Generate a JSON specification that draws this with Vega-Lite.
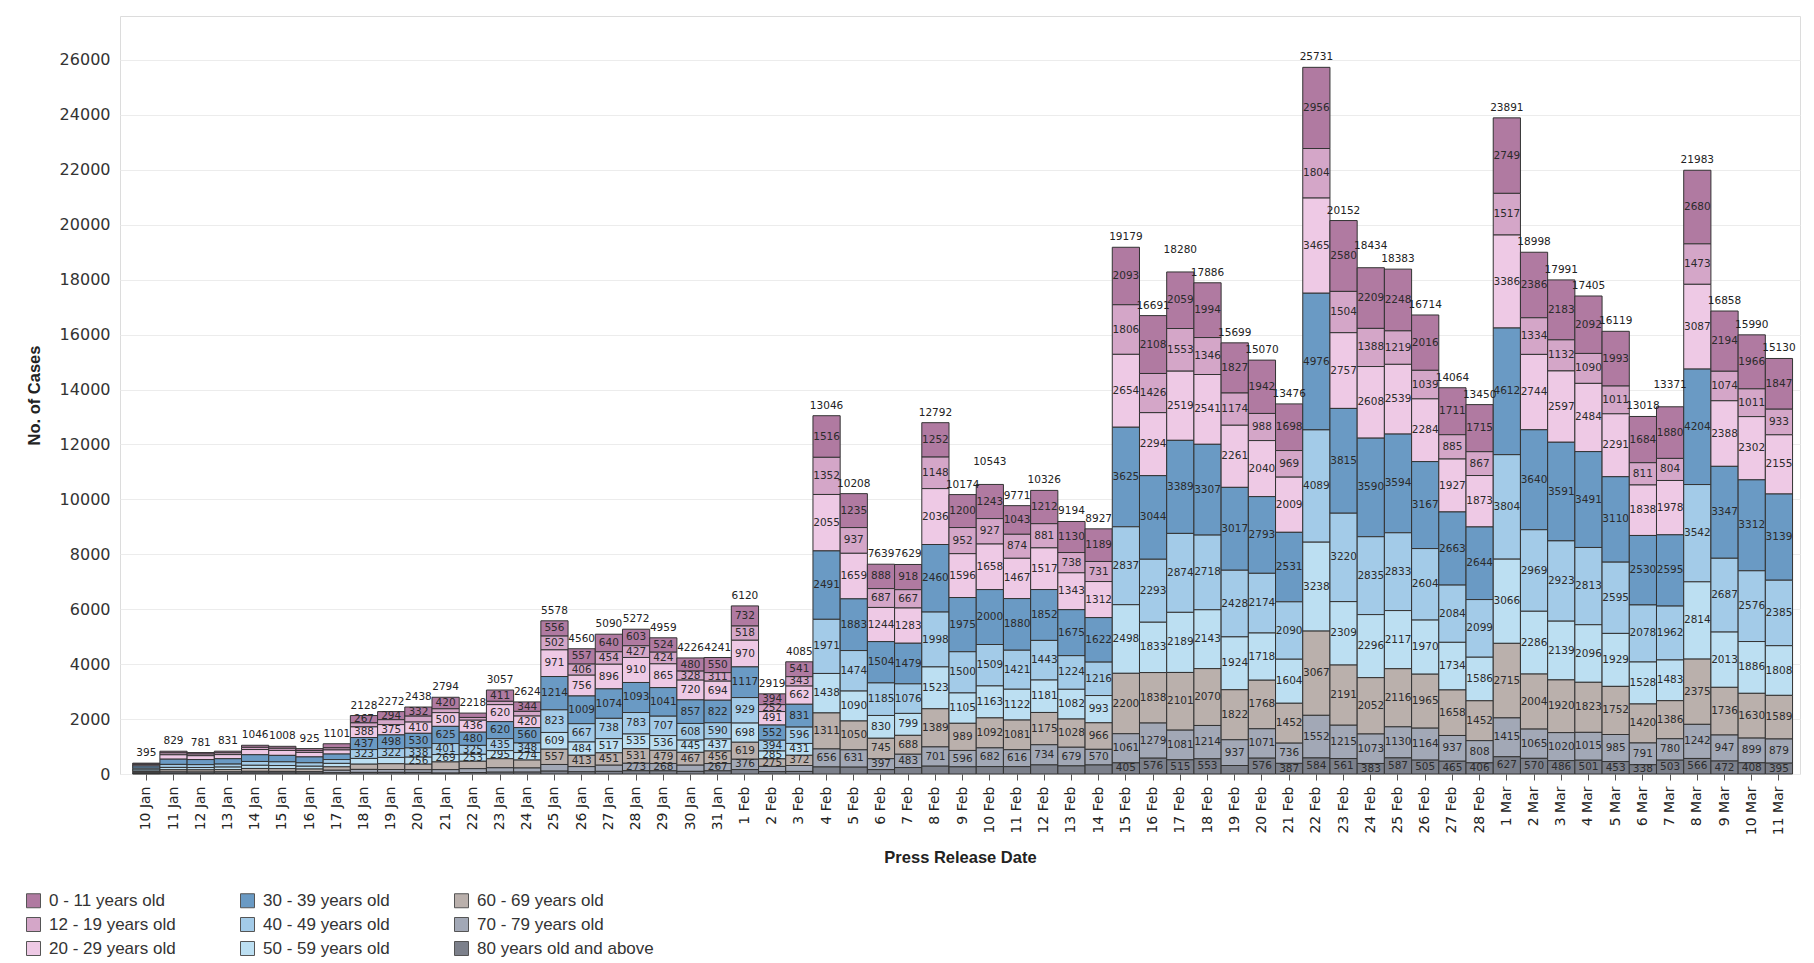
{
  "$schema": "https://vega.github.io/schema/vega-lite/v6.json",
  "width": 1680,
  "height": 758,
  "autosize": {"type": "none"},
  "padding": {"left": 120, "top": 16, "right": 14, "bottom": 189},
  "background": "white",
  "config": {
    "view": {"stroke": "#dcdcdc"},
    "axis": {"gridColor": "#ececec", "domain": false}
  },
  "data": {"values": [
    {"date": "2022-01-10", "0 - 11 years old": 35, "12 - 19 years old": 25, "20 - 29 years old": 45, "30 - 39 years old": 80, "40 - 49 years old": 65, "50 - 59 years old": 50, "60 - 69 years old": 50, "70 - 79 years old": 30, "80 years old and above": 15},
    {"date": "2022-01-11", "0 - 11 years old": 60, "12 - 19 years old": 70, "20 - 29 years old": 160, "30 - 39 years old": 190, "40 - 49 years old": 110, "50 - 59 years old": 85, "60 - 69 years old": 80, "70 - 79 years old": 45, "80 years old and above": 29},
    {"date": "2022-01-12", "0 - 11 years old": 55, "12 - 19 years old": 60, "20 - 29 years old": 140, "30 - 39 years old": 185, "40 - 49 years old": 105, "50 - 59 years old": 85, "60 - 69 years old": 80, "70 - 79 years old": 45, "80 years old and above": 26},
    {"date": "2022-01-13", "0 - 11 years old": 60, "12 - 19 years old": 65, "20 - 29 years old": 150, "30 - 39 years old": 195, "40 - 49 years old": 110, "50 - 59 years old": 90, "60 - 69 years old": 85, "70 - 79 years old": 48, "80 years old and above": 28},
    {"date": "2022-01-14", "0 - 11 years old": 75, "12 - 19 years old": 80, "20 - 29 years old": 190, "30 - 39 years old": 245, "40 - 49 years old": 140, "50 - 59 years old": 115, "60 - 69 years old": 105, "70 - 79 years old": 60, "80 years old and above": 36},
    {"date": "2022-01-15", "0 - 11 years old": 72, "12 - 19 years old": 78, "20 - 29 years old": 180, "30 - 39 years old": 235, "40 - 49 years old": 135, "50 - 59 years old": 112, "60 - 69 years old": 102, "70 - 79 years old": 58, "80 years old and above": 36},
    {"date": "2022-01-16", "0 - 11 years old": 68, "12 - 19 years old": 70, "20 - 29 years old": 165, "30 - 39 years old": 215, "40 - 49 years old": 125, "50 - 59 years old": 102, "60 - 69 years old": 95, "70 - 79 years old": 52, "80 years old and above": 33},
    {"date": "2022-01-17", "0 - 11 years old": 150, "12 - 19 years old": 75, "20 - 29 years old": 150, "30 - 39 years old": 200, "40 - 49 years old": 140, "50 - 59 years old": 125, "60 - 69 years old": 125, "70 - 79 years old": 90, "80 years old and above": 46},
    {"date": "2022-01-18", "0 - 11 years old": 267, "12 - 19 years old": 146, "20 - 29 years old": 388, "30 - 39 years old": 437, "40 - 49 years old": 323, "50 - 59 years old": 210, "60 - 69 years old": 190, "70 - 79 years old": 110, "80 years old and above": 57},
    {"date": "2022-01-19", "0 - 11 years old": 294, "12 - 19 years old": 180, "20 - 29 years old": 375, "30 - 39 years old": 498, "40 - 49 years old": 322, "50 - 59 years old": 230, "60 - 69 years old": 210, "70 - 79 years old": 105, "80 years old and above": 58},
    {"date": "2022-01-20", "0 - 11 years old": 332, "12 - 19 years old": 215, "20 - 29 years old": 410, "30 - 39 years old": 530, "40 - 49 years old": 338, "50 - 59 years old": 256, "60 - 69 years old": 200, "70 - 79 years old": 100, "80 years old and above": 57},
    {"date": "2022-01-21", "0 - 11 years old": 420, "12 - 19 years old": 140, "20 - 29 years old": 500, "30 - 39 years old": 625, "40 - 49 years old": 401, "50 - 59 years old": 269, "60 - 69 years old": 280, "70 - 79 years old": 125, "80 years old and above": 34},
    {"date": "2022-01-22", "0 - 11 years old": 160, "12 - 19 years old": 100, "20 - 29 years old": 436, "30 - 39 years old": 480, "40 - 49 years old": 325, "50 - 59 years old": 253, "60 - 69 years old": 270, "70 - 79 years old": 140, "80 years old and above": 54},
    {"date": "2022-01-23", "0 - 11 years old": 411, "12 - 19 years old": 120, "20 - 29 years old": 620, "30 - 39 years old": 620, "40 - 49 years old": 435, "50 - 59 years old": 295, "60 - 69 years old": 330, "70 - 79 years old": 160, "80 years old and above": 66},
    {"date": "2022-01-24", "0 - 11 years old": 344, "12 - 19 years old": 170, "20 - 29 years old": 420, "30 - 39 years old": 560, "40 - 49 years old": 348, "50 - 59 years old": 274, "60 - 69 years old": 290, "70 - 79 years old": 150, "80 years old and above": 68},
    {"date": "2022-01-25", "0 - 11 years old": 556, "12 - 19 years old": 502, "20 - 29 years old": 971, "30 - 39 years old": 1214, "40 - 49 years old": 823, "50 - 59 years old": 609, "60 - 69 years old": 557, "70 - 79 years old": 242, "80 years old and above": 104},
    {"date": "2022-01-26", "0 - 11 years old": 557, "12 - 19 years old": 406, "20 - 29 years old": 756, "30 - 39 years old": 1009, "40 - 49 years old": 667, "50 - 59 years old": 484, "60 - 69 years old": 413, "70 - 79 years old": 188, "80 years old and above": 80},
    {"date": "2022-01-27", "0 - 11 years old": 640, "12 - 19 years old": 454, "20 - 29 years old": 896, "30 - 39 years old": 1074, "40 - 49 years old": 738, "50 - 59 years old": 517, "60 - 69 years old": 451, "70 - 79 years old": 224, "80 years old and above": 96},
    {"date": "2022-01-28", "0 - 11 years old": 603, "12 - 19 years old": 427, "20 - 29 years old": 910, "30 - 39 years old": 1093, "40 - 49 years old": 783, "50 - 59 years old": 535, "60 - 69 years old": 531, "70 - 79 years old": 273, "80 years old and above": 117},
    {"date": "2022-01-29", "0 - 11 years old": 524, "12 - 19 years old": 424, "20 - 29 years old": 865, "30 - 39 years old": 1041, "40 - 49 years old": 707, "50 - 59 years old": 536, "60 - 69 years old": 479, "70 - 79 years old": 268, "80 years old and above": 115},
    {"date": "2022-01-30", "0 - 11 years old": 480, "12 - 19 years old": 328, "20 - 29 years old": 720, "30 - 39 years old": 857, "40 - 49 years old": 608, "50 - 59 years old": 445, "60 - 69 years old": 467, "70 - 79 years old": 225, "80 years old and above": 96},
    {"date": "2022-01-31", "0 - 11 years old": 550, "12 - 19 years old": 311, "20 - 29 years old": 694, "30 - 39 years old": 822, "40 - 49 years old": 590, "50 - 59 years old": 437, "60 - 69 years old": 456, "70 - 79 years old": 267, "80 years old and above": 114},
    {"date": "2022-02-01", "0 - 11 years old": 732, "12 - 19 years old": 518, "20 - 29 years old": 970, "30 - 39 years old": 1117, "40 - 49 years old": 929, "50 - 59 years old": 698, "60 - 69 years old": 619, "70 - 79 years old": 376, "80 years old and above": 161},
    {"date": "2022-02-02", "0 - 11 years old": 394, "12 - 19 years old": 252, "20 - 29 years old": 491, "30 - 39 years old": 552, "40 - 49 years old": 394, "50 - 59 years old": 285, "60 - 69 years old": 275, "70 - 79 years old": 193, "80 years old and above": 83},
    {"date": "2022-02-03", "0 - 11 years old": 541, "12 - 19 years old": 343, "20 - 29 years old": 662, "30 - 39 years old": 831, "40 - 49 years old": 596, "50 - 59 years old": 431, "60 - 69 years old": 372, "70 - 79 years old": 216, "80 years old and above": 93},
    {"date": "2022-02-04", "0 - 11 years old": 1516, "12 - 19 years old": 1352, "20 - 29 years old": 2055, "30 - 39 years old": 2491, "40 - 49 years old": 1971, "50 - 59 years old": 1438, "60 - 69 years old": 1311, "70 - 79 years old": 656, "80 years old and above": 256},
    {"date": "2022-02-05", "0 - 11 years old": 1235, "12 - 19 years old": 937, "20 - 29 years old": 1659, "30 - 39 years old": 1883, "40 - 49 years old": 1474, "50 - 59 years old": 1090, "60 - 69 years old": 1050, "70 - 79 years old": 631, "80 years old and above": 249},
    {"date": "2022-02-06", "0 - 11 years old": 888, "12 - 19 years old": 687, "20 - 29 years old": 1244, "30 - 39 years old": 1504, "40 - 49 years old": 1185, "50 - 59 years old": 830, "60 - 69 years old": 745, "70 - 79 years old": 397, "80 years old and above": 159},
    {"date": "2022-02-07", "0 - 11 years old": 918, "12 - 19 years old": 667, "20 - 29 years old": 1283, "30 - 39 years old": 1479, "40 - 49 years old": 1076, "50 - 59 years old": 799, "60 - 69 years old": 688, "70 - 79 years old": 483, "80 years old and above": 236},
    {"date": "2022-02-08", "0 - 11 years old": 1252, "12 - 19 years old": 1148, "20 - 29 years old": 2036, "30 - 39 years old": 2460, "40 - 49 years old": 1998, "50 - 59 years old": 1523, "60 - 69 years old": 1389, "70 - 79 years old": 701, "80 years old and above": 285},
    {"date": "2022-02-09", "0 - 11 years old": 1200, "12 - 19 years old": 952, "20 - 29 years old": 1596, "30 - 39 years old": 1975, "40 - 49 years old": 1500, "50 - 59 years old": 1105, "60 - 69 years old": 989, "70 - 79 years old": 596, "80 years old and above": 261},
    {"date": "2022-02-10", "0 - 11 years old": 1243, "12 - 19 years old": 927, "20 - 29 years old": 1658, "30 - 39 years old": 2000, "40 - 49 years old": 1509, "50 - 59 years old": 1163, "60 - 69 years old": 1092, "70 - 79 years old": 682, "80 years old and above": 269},
    {"date": "2022-02-11", "0 - 11 years old": 1043, "12 - 19 years old": 874, "20 - 29 years old": 1467, "30 - 39 years old": 1880, "40 - 49 years old": 1421, "50 - 59 years old": 1122, "60 - 69 years old": 1081, "70 - 79 years old": 616, "80 years old and above": 267},
    {"date": "2022-02-12", "0 - 11 years old": 1212, "12 - 19 years old": 881, "20 - 29 years old": 1517, "30 - 39 years old": 1852, "40 - 49 years old": 1443, "50 - 59 years old": 1181, "60 - 69 years old": 1175, "70 - 79 years old": 734, "80 years old and above": 331},
    {"date": "2022-02-13", "0 - 11 years old": 1130, "12 - 19 years old": 738, "20 - 29 years old": 1343, "30 - 39 years old": 1675, "40 - 49 years old": 1224, "50 - 59 years old": 1082, "60 - 69 years old": 1028, "70 - 79 years old": 679, "80 years old and above": 295},
    {"date": "2022-02-14", "0 - 11 years old": 1189, "12 - 19 years old": 731, "20 - 29 years old": 1312, "30 - 39 years old": 1622, "40 - 49 years old": 1216, "50 - 59 years old": 993, "60 - 69 years old": 966, "70 - 79 years old": 570, "80 years old and above": 328},
    {"date": "2022-02-15", "0 - 11 years old": 2093, "12 - 19 years old": 1806, "20 - 29 years old": 2654, "30 - 39 years old": 3625, "40 - 49 years old": 2837, "50 - 59 years old": 2498, "60 - 69 years old": 2200, "70 - 79 years old": 1061, "80 years old and above": 405},
    {"date": "2022-02-16", "0 - 11 years old": 2108, "12 - 19 years old": 1426, "20 - 29 years old": 2294, "30 - 39 years old": 3044, "40 - 49 years old": 2293, "50 - 59 years old": 1833, "60 - 69 years old": 1838, "70 - 79 years old": 1279, "80 years old and above": 576},
    {"date": "2022-02-17", "0 - 11 years old": 2059, "12 - 19 years old": 1553, "20 - 29 years old": 2519, "30 - 39 years old": 3389, "40 - 49 years old": 2874, "50 - 59 years old": 2189, "60 - 69 years old": 2101, "70 - 79 years old": 1081, "80 years old and above": 515},
    {"date": "2022-02-18", "0 - 11 years old": 1994, "12 - 19 years old": 1346, "20 - 29 years old": 2541, "30 - 39 years old": 3307, "40 - 49 years old": 2718, "50 - 59 years old": 2143, "60 - 69 years old": 2070, "70 - 79 years old": 1214, "80 years old and above": 553},
    {"date": "2022-02-19", "0 - 11 years old": 1827, "12 - 19 years old": 1174, "20 - 29 years old": 2261, "30 - 39 years old": 3017, "40 - 49 years old": 2428, "50 - 59 years old": 1924, "60 - 69 years old": 1822, "70 - 79 years old": 937, "80 years old and above": 309},
    {"date": "2022-02-20", "0 - 11 years old": 1942, "12 - 19 years old": 988, "20 - 29 years old": 2040, "30 - 39 years old": 2793, "40 - 49 years old": 2174, "50 - 59 years old": 1718, "60 - 69 years old": 1768, "70 - 79 years old": 1071, "80 years old and above": 576},
    {"date": "2022-02-21", "0 - 11 years old": 1698, "12 - 19 years old": 969, "20 - 29 years old": 2009, "30 - 39 years old": 2531, "40 - 49 years old": 2090, "50 - 59 years old": 1604, "60 - 69 years old": 1452, "70 - 79 years old": 736, "80 years old and above": 387},
    {"date": "2022-02-22", "0 - 11 years old": 2956, "12 - 19 years old": 1804, "20 - 29 years old": 3465, "30 - 39 years old": 4976, "40 - 49 years old": 4089, "50 - 59 years old": 3238, "60 - 69 years old": 3067, "70 - 79 years old": 1552, "80 years old and above": 584},
    {"date": "2022-02-23", "0 - 11 years old": 2580, "12 - 19 years old": 1504, "20 - 29 years old": 2757, "30 - 39 years old": 3815, "40 - 49 years old": 3220, "50 - 59 years old": 2309, "60 - 69 years old": 2191, "70 - 79 years old": 1215, "80 years old and above": 561},
    {"date": "2022-02-24", "0 - 11 years old": 2209, "12 - 19 years old": 1388, "20 - 29 years old": 2608, "30 - 39 years old": 3590, "40 - 49 years old": 2835, "50 - 59 years old": 2296, "60 - 69 years old": 2052, "70 - 79 years old": 1073, "80 years old and above": 383},
    {"date": "2022-02-25", "0 - 11 years old": 2248, "12 - 19 years old": 1219, "20 - 29 years old": 2539, "30 - 39 years old": 3594, "40 - 49 years old": 2833, "50 - 59 years old": 2117, "60 - 69 years old": 2116, "70 - 79 years old": 1130, "80 years old and above": 587},
    {"date": "2022-02-26", "0 - 11 years old": 2016, "12 - 19 years old": 1039, "20 - 29 years old": 2284, "30 - 39 years old": 3167, "40 - 49 years old": 2604, "50 - 59 years old": 1970, "60 - 69 years old": 1965, "70 - 79 years old": 1164, "80 years old and above": 505},
    {"date": "2022-02-27", "0 - 11 years old": 1711, "12 - 19 years old": 885, "20 - 29 years old": 1927, "30 - 39 years old": 2663, "40 - 49 years old": 2084, "50 - 59 years old": 1734, "60 - 69 years old": 1658, "70 - 79 years old": 937, "80 years old and above": 465},
    {"date": "2022-02-28", "0 - 11 years old": 1715, "12 - 19 years old": 867, "20 - 29 years old": 1873, "30 - 39 years old": 2644, "40 - 49 years old": 2099, "50 - 59 years old": 1586, "60 - 69 years old": 1452, "70 - 79 years old": 808, "80 years old and above": 406},
    {"date": "2022-03-01", "0 - 11 years old": 2749, "12 - 19 years old": 1517, "20 - 29 years old": 3386, "30 - 39 years old": 4612, "40 - 49 years old": 3804, "50 - 59 years old": 3066, "60 - 69 years old": 2715, "70 - 79 years old": 1415, "80 years old and above": 627},
    {"date": "2022-03-02", "0 - 11 years old": 2386, "12 - 19 years old": 1334, "20 - 29 years old": 2744, "30 - 39 years old": 3640, "40 - 49 years old": 2969, "50 - 59 years old": 2286, "60 - 69 years old": 2004, "70 - 79 years old": 1065, "80 years old and above": 570},
    {"date": "2022-03-03", "0 - 11 years old": 2183, "12 - 19 years old": 1132, "20 - 29 years old": 2597, "30 - 39 years old": 3591, "40 - 49 years old": 2923, "50 - 59 years old": 2139, "60 - 69 years old": 1920, "70 - 79 years old": 1020, "80 years old and above": 486},
    {"date": "2022-03-04", "0 - 11 years old": 2092, "12 - 19 years old": 1090, "20 - 29 years old": 2484, "30 - 39 years old": 3491, "40 - 49 years old": 2813, "50 - 59 years old": 2096, "60 - 69 years old": 1823, "70 - 79 years old": 1015, "80 years old and above": 501},
    {"date": "2022-03-05", "0 - 11 years old": 1993, "12 - 19 years old": 1011, "20 - 29 years old": 2291, "30 - 39 years old": 3110, "40 - 49 years old": 2595, "50 - 59 years old": 1929, "60 - 69 years old": 1752, "70 - 79 years old": 985, "80 years old and above": 453},
    {"date": "2022-03-06", "0 - 11 years old": 1684, "12 - 19 years old": 811, "20 - 29 years old": 1838, "30 - 39 years old": 2530, "40 - 49 years old": 2078, "50 - 59 years old": 1528, "60 - 69 years old": 1420, "70 - 79 years old": 791, "80 years old and above": 338},
    {"date": "2022-03-07", "0 - 11 years old": 1880, "12 - 19 years old": 804, "20 - 29 years old": 1978, "30 - 39 years old": 2595, "40 - 49 years old": 1962, "50 - 59 years old": 1483, "60 - 69 years old": 1386, "70 - 79 years old": 780, "80 years old and above": 503},
    {"date": "2022-03-08", "0 - 11 years old": 2680, "12 - 19 years old": 1473, "20 - 29 years old": 3087, "30 - 39 years old": 4204, "40 - 49 years old": 3542, "50 - 59 years old": 2814, "60 - 69 years old": 2375, "70 - 79 years old": 1242, "80 years old and above": 566},
    {"date": "2022-03-09", "0 - 11 years old": 2194, "12 - 19 years old": 1074, "20 - 29 years old": 2388, "30 - 39 years old": 3347, "40 - 49 years old": 2687, "50 - 59 years old": 2013, "60 - 69 years old": 1736, "70 - 79 years old": 947, "80 years old and above": 472},
    {"date": "2022-03-10", "0 - 11 years old": 1966, "12 - 19 years old": 1011, "20 - 29 years old": 2302, "30 - 39 years old": 3312, "40 - 49 years old": 2576, "50 - 59 years old": 1886, "60 - 69 years old": 1630, "70 - 79 years old": 899, "80 years old and above": 408},
    {"date": "2022-03-11", "0 - 11 years old": 1847, "12 - 19 years old": 933, "20 - 29 years old": 2155, "30 - 39 years old": 3139, "40 - 49 years old": 2385, "50 - 59 years old": 1808, "60 - 69 years old": 1589, "70 - 79 years old": 879, "80 years old and above": 395}
  ]},
  "transform": [
    {"fold": ["0 - 11 years old", "12 - 19 years old", "20 - 29 years old", "30 - 39 years old", "40 - 49 years old", "50 - 59 years old", "60 - 69 years old", "70 - 79 years old", "80 years old and above"], "as": ["group", "cases"]},
    {"stack": "cases", "groupby": ["date"], "sort": [{"field": "group", "order": "descending"}], "as": ["c0", "c1"]},
    {"calculate": "(datum.c0 + datum.c1) / 2", "as": "cmid"}
  ],
  "encoding": {
    "x": {
      "field": "date", "type": "ordinal", "timeUnit": "utcyearmonthdate",
      "scale": {"paddingInner": 0, "paddingOuter": 0.37, "align": 0.63},
      "axis": {
        "labelExpr": "utcFormat(datum.value, '%-d %b')", "labelAngle": 270,
        "labelFont": "DejaVu Sans", "labelFontSize": 14, "labelColor": "#222",
        "labelPadding": 6, "tickSize": 6, "tickColor": "#555", "ticks": true, "domain": false,
        "title": "Press Release Date", "titleFont": "Liberation Sans", "titleFontSize": 16.5,
        "titleFontWeight": "bold", "titleColor": "#222", "titlePadding": 15
      }
    }
  },
  "layer": [
    {
      "mark": {"type": "bar", "stroke": "#333333", "strokeWidth": 1},
      "encoding": {
        "y": {
          "field": "c1", "type": "quantitative",
          "scale": {"domain": [0, 27600], "nice": false},
          "axis": {
            "values": [0, 2000, 4000, 6000, 8000, 10000, 12000, 14000, 16000, 18000, 20000, 22000, 24000, 26000],
            "format": "d", "ticks": false, "labelPadding": 10, "labelFont": "DejaVu Sans", "labelFontSize": 16,
            "labelColor": "#333", "domain": false, "grid": true, "gridColor": "#ececec",
            "title": "No. of Cases", "titleFont": "Liberation Sans", "titleFontSize": 16.5,
            "titleFontWeight": "bold", "titleColor": "#222", "titlePadding": 17
          }
        },
        "y2": {"field": "c0"},
        "color": {
          "field": "group", "type": "nominal",
          "scale": {
            "domain": ["0 - 11 years old", "12 - 19 years old", "20 - 29 years old", "30 - 39 years old", "40 - 49 years old", "50 - 59 years old", "60 - 69 years old", "70 - 79 years old", "80 years old and above"],
            "range": ["#b07aa1", "#d4a6c8", "#eec9e5", "#6a9ac4", "#a3cbe8", "#bcdff2", "#bab0ac", "#a2a8b6", "#7c808b"]
          },
          "legend": {
            "orient": "none", "legendX": -95, "legendY": 876, "columns": 3, "title": null,
            "symbolType": "square", "symbolSize": 196, "symbolStrokeColor": "#555", "symbolStrokeWidth": 1,
            "symbolOpacity": 1, "labelFont": "Liberation Sans", "labelFontSize": 17, "labelColor": "#333",
            "labelOffset": 7, "rowPadding": 5, "columnPadding": 62, "labelLimit": 300
          }
        }
      }
    },
    {
      "transform": [
        {"window": [{"op": "lag", "field": "cases", "as": "above"}], "groupby": ["date"], "sort": [{"field": "group", "order": "ascending"}]},
        {"filter": "(datum.cases >= 335 || (datum.cases >= 250 && datum.group != '80 years old and above')) && !(datum.group == '60 - 69 years old' && datum.above != null && datum.cases > datum.above && (datum.cases + datum.above) / 2 < 380)"}
      ],
      "mark": {"type": "text", "font": "DejaVu Sans", "fontSize": 10.5, "color": "#2b2b2b", "align": "center", "baseline": "middle"},
      "encoding": {
        "y": {"field": "cmid", "type": "quantitative"},
        "text": {"field": "cases", "type": "quantitative", "format": "d"}
      }
    },
    {
      "transform": [
        {"aggregate": [{"op": "sum", "field": "cases", "as": "total"}], "groupby": ["date"]},
        {"window": [{"op": "lag", "field": "total", "as": "prevT"}, {"op": "lead", "field": "total", "as": "nextT"}], "sort": [{"field": "date", "order": "ascending"}]},
        {"calculate": "datum.total >= 10000 && ((datum.prevT != null && datum.prevT >= 10000 && datum.total - datum.prevT >= 0 && datum.total - datum.prevT < 440) || (datum.nextT != null && datum.nextT >= 10000 && datum.total - datum.nextT >= 0 && datum.total - datum.nextT < 440))", "as": "raised"}
      ],
      "encoding": {
        "y": {"field": "total", "type": "quantitative"},
        "text": {"field": "total", "type": "quantitative", "format": "d"}
      },
      "layer": [
        {
          "transform": [{"filter": "!datum.raised"}],
          "mark": {"type": "text", "font": "DejaVu Sans", "fontSize": 10.5, "color": "#222", "align": "center", "baseline": "bottom", "dy": -5}
        },
        {
          "transform": [{"filter": "datum.raised"}],
          "mark": {"type": "text", "font": "DejaVu Sans", "fontSize": 10.5, "color": "#222", "align": "center", "baseline": "bottom", "dy": -17}
        }
      ]
    }
  ]
}
